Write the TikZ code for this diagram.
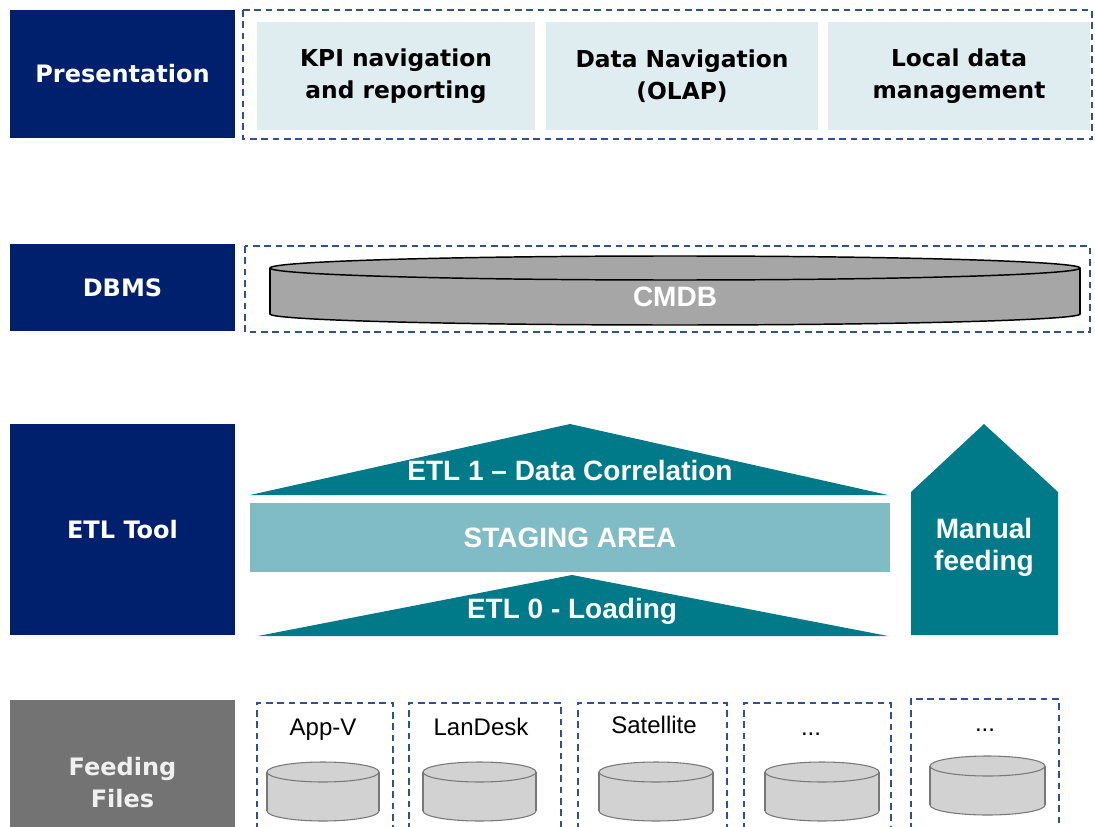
\documentclass[tikz,border=0pt]{standalone}
\usepackage{fontspec}
\setmainfont{Liberation Sans}
\newfontfamily\dvs{DejaVu Sans}
\definecolor{navy}{RGB}{0,32,110}
\definecolor{fgray}{RGB}{115,115,115}
\definecolor{flbl}{RGB}{240,240,240}
\definecolor{lcyan}{RGB}{223,237,240}
\definecolor{dashc}{RGB}{50,80,140}
\definecolor{teal1}{RGB}{0,122,136}
\definecolor{stage}{RGB}{128,188,198}
\definecolor{cmdbg}{RGB}{166,166,166}
\definecolor{cylg}{RGB}{210,210,210}
\definecolor{cyle}{RGB}{120,120,120}
\tikzset{
  sz/.style 2 args={minimum width=#1*0.75pt, minimum height=#2*0.75pt},
  layerbox/.style={fill=navy, inner sep=0pt, outer sep=0pt, text=white,
    font=\dvs\bfseries\fontsize{18}{24}\selectfont, align=center},
  pbox/.style={fill=lcyan, inner sep=0pt, outer sep=0pt, text=black,
    font=\dvs\bfseries\fontsize{17.5}{24}\selectfont, align=center},
  dashbox/.style={draw=dashc, line width=0.9pt, dash pattern=on 5pt off 3.5pt},
  etltxt/.style={text=white, font=\bfseries\fontsize{21}{24}\selectfont, align=center},
  filelbl/.style={font=\fontsize{18}{22}\selectfont, anchor=base, inner sep=0pt},
  tealfill/.style={fill=teal1},
}
\newcommand\smallcyl[5]{% x1 x2 ytop ybot ry
  \pgfmathsetmacro\cx{(#1+#2)/2}\pgfmathsetmacro\rx{(#2-#1)/2}
  \filldraw[fill=cylg, draw=cyle, line width=0.8pt] (\cx,#4) ellipse [x radius=\rx, y radius=#5];
  \fill[cylg] (#1,#3) rectangle (#2,#4);
  \draw[cyle, line width=0.8pt] (#1,#3) -- (#1,#4) (#2,#3) -- (#2,#4);
  \filldraw[fill=cylg, draw=cyle, line width=0.8pt] (\cx,#3) ellipse [x radius=\rx, y radius=#5];
}
\begin{document}
\begin{tikzpicture}[x=0.75pt,y=-0.75pt]
\useasboundingbox (0,0) rectangle (1095,827);
\clip (0,0) rectangle (1095,827);

% ---------- Presentation ----------
\node[layerbox, sz={225}{128}] (pres) at (122.5,74) {Presentation};
\draw[dashbox] (243,10) rectangle (1092,139);
\node[pbox, sz={278}{108}] (kpi) at (396,76) {KPI navigation\\and reporting};
\node[pbox, sz={272}{108}] (olap) at (682,76) {Data Navigation\\(OLAP)};
\node[pbox, sz={262}{108}] (local) at (959,76) {Local data\\management};

% ---------- DBMS ----------
\node[layerbox, sz={225}{87}] (dbms) at (122.5,287.5) {DBMS};
\draw[dashbox] (245,246) rectangle (1090,332);
\filldraw[fill=cmdbg, draw=black, line width=1.1pt] (675,314) ellipse [x radius=405, y radius=11];
\fill[cmdbg] (270,268) rectangle (1080,314);
\draw[black, line width=1.1pt] (270,268) -- (270,314) (1080,268) -- (1080,314);
\filldraw[fill=cmdbg, draw=black, line width=1.1pt] (675,268) ellipse [x radius=405, y radius=12];
\node[etltxt] (cmdb) at (675,297) {CMDB};

% ---------- ETL Tool ----------
\node[layerbox, sz={225}{211}] (etl) at (122.5,529.5) {ETL Tool};
\fill[tealfill] (250,495) -- (570,424) -- (888,495) -- cycle;
\node[etltxt] (etl1) at (570,470) {ETL 1 – Data Correlation};
\node[fill=stage, inner sep=0pt, outer sep=0pt, sz={640}{69}, etltxt] (staging) at (570,537.5) {STAGING AREA};
\fill[tealfill] (258,636) -- (572,575) -- (888,636) -- cycle;
\node[etltxt] (etl0) at (572,611) {ETL 0 - Loading};
\fill[tealfill] (911,635) -- (911,492) -- (984,424) -- (1058,492) -- (1058,635) -- cycle;
\node[etltxt] (manual) at (984,547) {Manual\\feeding};

% ---------- Feeding Files ----------
\node[layerbox, fill=fgray, sz={225}{140}] (feedbg) at (122.5,770) {};
\node[layerbox, fill=none, text=flbl] (feed) at (122.5,783) {Feeding\\Files};
\draw[dashbox] (257,830) -- (257,703) -- (393,703) -- (393,830);
\draw[dashbox] (409,830) -- (409,703) -- (561,703) -- (561,830);
\draw[dashbox] (578,830) -- (578,703) -- (727,703) -- (727,830);
\draw[dashbox] (744,830) -- (744,703) -- (891,703) -- (891,830);
\draw[dashbox] (911,830) -- (911,699) -- (1059,699) -- (1059,830);
\node[filelbl] (appv) at (323,735) {App-V};
\node[filelbl] (landesk) at (481,735) {LanDesk};
\node[filelbl] (sat) at (654,733) {Satellite};
\node[filelbl] (dots1) at (811,735) {...};
\node[filelbl] (dots2) at (985,731) {...};
\smallcyl{267}{379}{772}{811}{10}
\smallcyl{423}{536}{772}{811}{10}
\smallcyl{599}{713}{772}{811}{10}
\smallcyl{765}{879}{772}{811}{10}
\smallcyl{930}{1045}{766}{805}{10}
\end{tikzpicture}
\end{document}
